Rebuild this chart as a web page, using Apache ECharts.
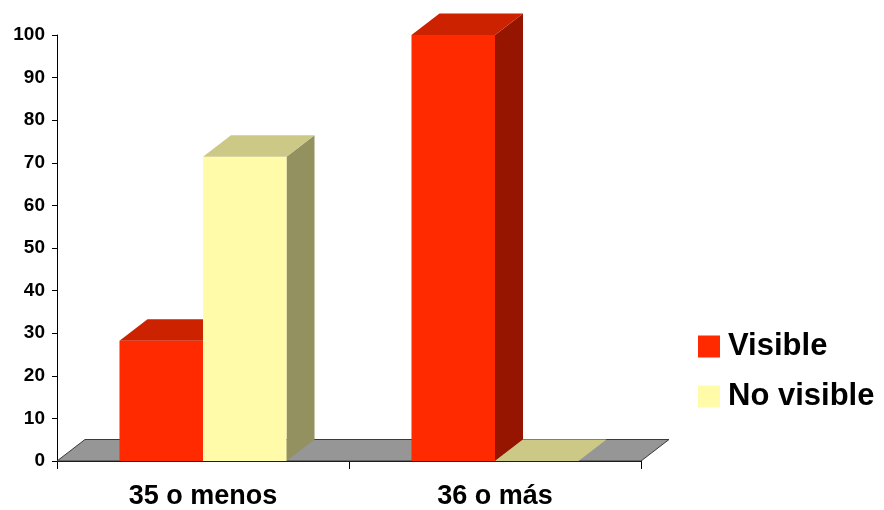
<!DOCTYPE html>
<html>
<head>
<meta charset="utf-8">
<script src="https://cdn.jsdelivr.net/npm/echarts@6/dist/echarts.min.js"></script>
<style>
  html, body { margin: 0; padding: 0; background: #ffffff; }
  #chart { width: 884px; height: 510px; }
</style>
</head>
<body>
<div id="chart"></div>
<script>
// Age groups on the category axis
const categories = ['35 o menos', '36 o más'];
// Percentages per group
const visibleValues = [28.2, 100];
const noVisibleValues = [71.4, 0];
const seriesNames = ['Visible', 'No visible'];
const yTicks = { min: 0, max: 100, step: 10 };

const FONT = '"Liberation Sans", Arial, Helvetica, sans-serif';
const DEPTH_X = 28;          // oblique depth of the 3D boxes
const DEPTH_Y = 21.5;
const BAR_FRAC = 0.286;      // bar width as a share of the category band

// face colours: front, top, side
const palettes = [
  { front: '#FF2A00', top: '#CC2200', side: '#961500' },
  { front: '#FFFBA8', top: '#CCC886', side: '#939160' }
];

function makeBarRenderer(order) {
  const pal = palettes[order];
  return function (params, api) {
    const cat = api.value(0);
    const val = api.value(1);
    const base = api.coord([cat, 0]);
    const top = api.coord([cat, val]);
    const band = api.size([1, 0])[0];
    const w = band * BAR_FRAC;
    const x0 = base[0] - w + order * w;
    const x1 = x0 + w;
    const yb = base[1];
    const yt = top[1];
    const children = [];
    if (yb - yt > 0.5) {
      children.push({
        type: 'polygon',
        shape: { points: [[x1, yt], [x1 + DEPTH_X, yt - DEPTH_Y], [x1 + DEPTH_X, yb - DEPTH_Y], [x1, yb]] },
        style: { fill: pal.side }
      });
      children.push({
        type: 'rect',
        shape: { x: x0, y: yt, width: w, height: yb - yt },
        style: { fill: pal.front }
      });
    }
    children.push({
      type: 'polygon',
      shape: { points: [[x0, yt], [x0 + DEPTH_X, yt - DEPTH_Y], [x1 + DEPTH_X, yt - DEPTH_Y], [x1, yt]] },
      style: { fill: pal.top }
    });
    return { type: 'group', children: children };
  };
}

function renderFloor(params, api) {
  const cs = params.coordSys;
  const yb = cs.y + cs.height;
  const xl = cs.x;
  const xr = cs.x + cs.width;
  return {
    type: 'polygon',
    shape: { points: [[xl, yb], [xl + DEPTH_X, yb - DEPTH_Y], [xr + DEPTH_X, yb - DEPTH_Y], [xr, yb]] },
    style: { fill: '#969696', stroke: '#3a3a3a', lineWidth: 1 }
  };
}

const visibleData = categories.map((c, i) => [i, visibleValues[i]]);
const noVisibleData = categories.map((c, i) => [i, noVisibleValues[i]]);

const chart = echarts.init(document.getElementById('chart'), null, { renderer: 'canvas' });
chart.setOption({
  backgroundColor: '#ffffff',
  animation: false,
  grid: { left: 57, right: 243, top: 35, bottom: 47, containLabel: false },
  legend: {
    data: seriesNames,
    orient: 'vertical',
    left: 698,
    top: 331,
    padding: 0,
    icon: 'rect',
    itemWidth: 22,
    itemHeight: 22,
    itemGap: 19,
    textStyle: { fontFamily: FONT, fontWeight: 'bold', fontSize: 31, lineHeight: 31, color: '#000', padding: [0, 0, 0, 3] }
  },
  xAxis: {
    type: 'category',
    data: categories,
    boundaryGap: true,
    axisLine: { lineStyle: { color: '#000', width: 1 } },
    axisTick: { show: true, length: 8, lineStyle: { color: '#000' } },
    axisLabel: { fontFamily: FONT, fontWeight: 'bold', fontSize: 27, color: '#000', margin: 22 },
    splitLine: { show: false }
  },
  yAxis: {
    type: 'value',
    min: yTicks.min,
    max: yTicks.max,
    interval: yTicks.step,
    axisLine: { show: true, lineStyle: { color: '#000', width: 1 } },
    axisTick: { show: true, length: 5, lineStyle: { color: '#000' } },
    axisLabel: { fontFamily: FONT, fontWeight: 'bold', fontSize: 19, color: '#000', margin: 12 },
    splitLine: { show: false }
  },
  series: [
    {
      name: 'floor',
      type: 'custom',
      data: [[0, 0]],
      renderItem: renderFloor,
      z: 1,
      silent: true
    },
    {
      name: seriesNames[0],
      type: 'custom',
      data: visibleData,
      itemStyle: { color: palettes[0].front },
      renderItem: makeBarRenderer(0),
      encode: { x: 0, y: 1 },
      clip: false,
      z: 3
    },
    {
      name: seriesNames[1],
      type: 'custom',
      data: noVisibleData,
      itemStyle: { color: palettes[1].front },
      renderItem: makeBarRenderer(1),
      encode: { x: 0, y: 1 },
      clip: false,
      z: 4
    }
  ]
});
</script>
</body>
</html>
